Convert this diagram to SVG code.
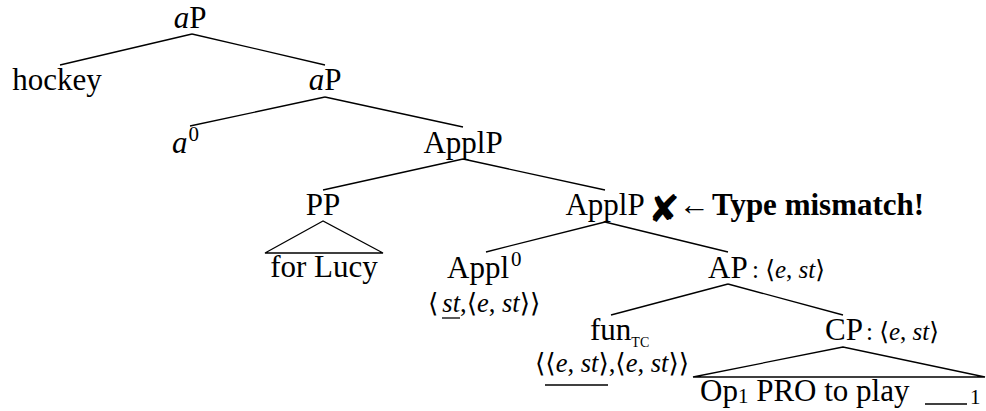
<svg xmlns="http://www.w3.org/2000/svg" width="986" height="411" viewBox="0 0 986 411">
<style>
.t{font-family:"Liberation Serif","DejaVu Serif",serif;font-size:31px;fill:#000}
.i{font-style:italic}
.lab{font-size:25px}
.lab2{font-size:26.5px}
.sup{font-size:21px}
.sub{font-size:21px}
.tc{font-size:14px}
.b{font-weight:bold}
.mk{font-family:"DejaVu Sans",sans-serif;font-size:38px}
.e line,.e path{stroke:#000;stroke-width:1.3;fill:none}
</style>
<rect width="986" height="411" fill="#fff"/>
<g class="e" id="connectors">
<line x1="192" y1="34" x2="60" y2="65"/>
<line x1="192" y1="34" x2="325" y2="65"/>
<line x1="325" y1="97" x2="190" y2="126"/>
<line x1="325" y1="97" x2="463" y2="127"/>
<line x1="463" y1="159" x2="323" y2="190"/>
<line x1="463" y1="159" x2="605" y2="190"/>
<path d="M323 221 L265 253 L383 253 Z"/>
<line x1="605" y1="222" x2="486" y2="252"/>
<line x1="605" y1="222" x2="728" y2="252"/>
<line x1="728" y1="284" x2="611" y2="315"/>
<line x1="728" y1="284" x2="843" y2="315"/>
<path d="M843 347 L693 377 L985 377 Z"/>
<line x1="442" y1="318" x2="460" y2="318"/>
<line x1="545" y1="385" x2="608" y2="385"/>
<line x1="925" y1="404" x2="967" y2="404"/>
</g>
<g id="n-aP-root"><text class="t" x="190" y="28" text-anchor="middle"><tspan class="i">a</tspan>P</text></g>
<g id="n-hockey"><text class="t" x="57" y="90" text-anchor="middle">hockey</text></g>
<g id="n-aP"><text class="t" x="325" y="90" text-anchor="middle"><tspan class="i">a</tspan>P</text></g>
<g id="n-a0"><text class="t" x="172" y="153"><tspan class="i">a</tspan><tspan class="sup" dx="1" dy="-12">0</tspan></text></g>
<g id="n-ApplP1"><text class="t" x="463" y="153" text-anchor="middle">ApplP</text></g>
<g id="n-PP"><text class="t" x="323" y="215" text-anchor="middle">PP</text></g>
<g id="n-forLucy"><text class="t" x="324" y="277" text-anchor="middle">for Lucy</text></g>
<g id="n-ApplP2"><text class="t" x="605" y="215" text-anchor="middle">ApplP</text>
<text class="mk" x="664" y="222" text-anchor="middle">✘</text>
<text class="t" x="679" y="215" font-size="25">←</text>
<text class="t b" x="712" y="215">Type mismatch!</text></g>
<g id="n-Appl0"><text class="t" x="447" y="278">Appl<tspan class="sup" dx="2" dy="-12">0</tspan></text>
<text class="t lab2" x="428" y="312">⟨<tspan class="i" dx="4">st</tspan>,⟨<tspan class="i">e</tspan>, <tspan class="i">st</tspan>⟩⟩</text></g>
<g id="n-AP"><text class="t" x="708" y="278">AP</text><text class="t lab" x="752" y="278">: ⟨<tspan class="i">e</tspan>, <tspan class="i">st</tspan>⟩</text></g>
<g id="n-fun"><text class="t" x="590" y="340">fun<tspan class="tc" dy="7">TC</tspan></text>
<text class="t lab2" x="535" y="372">⟨⟨<tspan class="i">e</tspan>, <tspan class="i">st</tspan>⟩,⟨<tspan class="i">e</tspan>, <tspan class="i">st</tspan>⟩⟩</text></g>
<g id="n-CP"><text class="t" x="825" y="340">CP</text><text class="t lab" x="866" y="340">: ⟨<tspan class="i">e</tspan>, <tspan class="i">st</tspan>⟩</text></g>
<g id="n-Op"><text class="t" x="700" y="401" font-size="32">Op<tspan class="sub" dy="2">1</tspan><tspan dy="-2"> PRO to play</tspan></text>
<text class="t sub" x="970" y="404" font-size="20">1</text></g>
</svg>
